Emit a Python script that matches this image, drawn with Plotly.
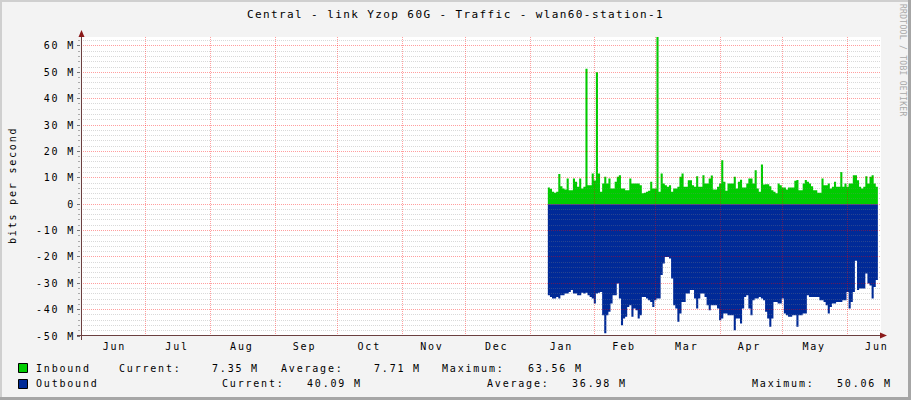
import plotly.graph_objects as go
import pandas as pd

# ---------------- data ----------------
title_text = "Central - link Yzop 60G - Traffic - wlan60-station-1"
series_start = "2024-01-09 12:00"   # first daily sample

inbound_mbps = [
    6.3, 5.8, 4.7, 4.3, 4.7, 11.4, 6.8, 5.9, 5.6, 9.7,
    5.3, 5.3, 9.7, 8.5, 6.6, 9.7, 5.9, 6.6, 51.4, 7.2,
    7.2, 11.6, 9.0, 50.0, 11.6, 4.7, 7.8, 10.4, 7.8, 9.7,
    5.9, 5.9, 8.5, 10.4, 11.0, 5.9, 5.9, 5.3, 5.3, 9.7,
    7.8, 7.8, 7.8, 7.8, 7.2, 4.1, 4.3, 4.7, 5.1, 8.5,
    5.9, 5.9, 63.56, 4.7, 11.6, 7.8, 7.2, 6.6, 7.2, 4.7,
    5.9, 5.9, 6.6, 10.4, 11.6, 6.6, 6.6, 9.1, 9.1, 7.2,
    6.6, 10.6, 6.6, 6.6, 11.0, 7.8, 7.8, 9.7, 10.9, 5.6,
    5.6, 6.6, 7.8, 16.7, 8.5, 5.1, 7.8, 7.8, 7.8, 10.4,
    5.9, 8.5, 9.3, 6.3, 6.3, 7.8, 9.7, 9.7, 7.8, 12.9,
    5.9, 4.7, 15.0, 7.5, 7.6, 7.6, 6.8, 5.3, 4.7, 4.1,
    7.8, 7.2, 6.3, 6.3, 5.6, 6.3, 6.3, 6.3, 8.9, 9.2,
    5.3, 5.3, 7.8, 9.2, 8.5, 7.8, 6.8, 5.3, 5.3, 4.3,
    4.3, 9.7, 7.2, 7.2, 7.8, 5.9, 6.6, 8.5, 6.6, 6.6,
    12.2, 6.6, 7.8, 6.6, 7.8, 7.8, 11.0, 11.0, 9.1, 6.6,
    5.9, 6.6, 10.6, 7.8, 10.4, 11.0, 7.8, 6.6, 7.35,
]

outbound_mbps = [
    34.5, 35.2, 35.8, 35.8, 35.2, 35.8, 34.5, 34.5, 33.9, 33.9,
    33.3, 32.6, 33.9, 33.9, 34.5, 34.5, 33.6, 33.9, 33.6, 34.5,
    35.2, 35.8, 37.7, 33.9, 33.6, 33.3, 42.1, 49.0, 42.1, 40.8,
    37.7, 34.5, 34.5, 30.1, 35.8, 45.9, 43.4, 42.7, 39.0, 38.3,
    42.7, 39.6, 40.2, 43.4, 42.1, 35.2, 35.2, 35.8, 36.4, 37.1,
    39.0, 36.4, 35.8, 35.8, 26.9, 22.5, 20.0, 20.0, 20.6, 28.2,
    38.3, 39.6, 44.6, 41.5, 37.1, 37.1, 33.9, 33.9, 32.6, 32.6,
    35.8, 39.6, 35.8, 33.9, 33.9, 35.2, 38.3, 40.2, 38.3, 38.3,
    38.3, 39.6, 44.0, 43.4, 41.5, 41.5, 42.1, 42.1, 42.1, 47.8,
    43.4, 43.4, 45.3, 39.6, 35.2, 34.5, 39.6, 42.1, 36.4, 35.8,
    35.8, 35.2, 35.8, 36.4, 40.8, 43.4, 46.5, 43.4, 37.1, 37.1,
    37.7, 37.7, 35.8, 41.5, 42.1, 42.7, 42.7, 42.1, 42.1, 46.5,
    42.1, 42.1, 41.5, 41.5, 34.5, 35.2, 35.2, 35.2, 35.2, 35.2,
    36.4, 36.4, 37.1, 38.3, 41.5, 39.0, 37.7, 37.7, 37.1, 37.1,
    37.1, 36.4, 36.4, 33.3, 39.6, 37.1, 33.3, 21.5, 32.6, 32.0,
    32.0, 32.0, 26.3, 30.1, 30.8, 35.8, 31.4, 28.8, 34.5,
]

x_range = ["2023-05-31", "2024-06-17"]
month_grid_dates = ["2023-07-01", "2023-08-01", "2023-09-01", "2023-10-01",
                    "2023-11-01", "2023-12-01", "2024-01-01", "2024-02-01",
                    "2024-03-01", "2024-04-01", "2024-05-01", "2024-06-01"]
month_label_dates = ["2023-06-16", "2023-07-16", "2023-08-16", "2023-09-15",
                     "2023-10-16", "2023-11-15", "2023-12-16", "2024-01-16",
                     "2024-02-15", "2024-03-16", "2024-04-15", "2024-05-16",
                     "2024-06-15"]
month_labels = ["Jun", "Jul", "Aug", "Sep", "Oct", "Nov", "Dec",
                "Jan", "Feb", "Mar", "Apr", "May", "Jun"]

y_range = [-50, 63.4]
ytick_vals = [60, 50, 40, 30, 20, 10, 0, -10, -20, -30, -40, -50]
ytick_text = ["60 M", "50 M", "40 M", "30 M", "20 M", "10 M", "0",
              "-10 M", "-20 M", "-30 M", "-40 M", "-50 M"]

legend_rows = [
    # (label, colour, [(text, x_px, anchor), ...], y_px)
    ("Inbound", "#00CC00",
     [("Current:", 117, "left"), ("7.35 M", 261, "right"),
      ("Average:", 279, "left"), ("7.71 M", 423, "right"),
      ("Maximum:", 440, "left"), ("63.56 M", 585, "right")], 368),
    ("Outbound", "#002A97",
     [("Current:", 220, "left"), ("40.09 M", 364, "right"),
      ("Average:", 485, "left"), ("36.98 M", 629, "right"),
      ("Maximum:", 750, "left"), ("50.06 M", 894, "right")], 384),
]

IN_COLOR = "#00CC00"
OUT_COLOR = "#002A97"
FONT = "DejaVu Sans Mono"

# ---------------- layout helpers ----------------
W, H = 911, 400
PL, PR, PT, PB = 81, 881, 37, 336


def px(xp):
    return (xp - PL) / (PR - PL)


def py(yp):
    return (PB - yp) / (PB - PT)


def sp(t, ls=1.8):
    return f'<span style="letter-spacing:{ls}px">{t}</span>'


def snap_y(v):
    """value -> value at the centre of the nearest pixel row (crisp 1px lines)"""
    y0, y1 = y_range
    ypix = (y1 - v) / (y1 - y0) * (PB - PT)
    ypix = int(ypix) + 0.5
    return y1 - ypix / (PB - PT) * (y1 - y0)


t0, t1 = pd.Timestamp(x_range[0]), pd.Timestamp(x_range[1])


def snap_x(d):
    t = pd.Timestamp(d)
    xpix = (t - t0) / (t1 - t0) * (PR - PL)
    xpix = int(xpix) + 0.5
    return t0 + (t1 - t0) * (xpix / (PR - PL))


dates = pd.date_range(series_start, periods=len(inbound_mbps), freq="D")

fig = go.Figure()
fig.add_trace(go.Scatter(
    x=dates, y=inbound_mbps, mode="lines", fill="tozeroy",
    line=dict(width=0, shape="hv", color=IN_COLOR), fillcolor=IN_COLOR,
    name="Inbound", hoverinfo="skip"))
fig.add_trace(go.Scatter(
    x=dates, y=[-v for v in outbound_mbps], mode="lines", fill="tozeroy",
    line=dict(width=0, shape="hv", color=OUT_COLOR), fillcolor=OUT_COLOR,
    name="Outbound", hoverinfo="skip"))

shapes = []
MINOR = "rgba(128,128,128,0.30)"
MAJOR = "rgba(255,0,0,0.38)"
DASH = "1px,1px"
# horizontal grid (drawn above the areas, like rrdtool)
for v in range(-48, 64, 2):
    vs = snap_y(v)
    shapes.append(dict(type="line", xref="paper", x0=0, x1=1, yref="y", y0=vs, y1=vs,
                       line=dict(color=MAJOR if v % 10 == 0 else MINOR, width=1, dash=DASH),
                       layer="above"))
# vertical month grid
for d in month_grid_dates:
    ds = snap_x(d)
    shapes.append(dict(type="line", xref="x", x0=ds, x1=ds, yref="paper", y0=0, y1=1,
                       line=dict(color=MAJOR, width=1, dash=DASH), layer="above"))

AX = "#6b4040"
ARROW = "#8b1a1a"
# axis lines
shapes.append(dict(type="line", xref="paper", yref="paper", x0=px(PL + 0.5), x1=px(PL + 0.5),
                   y0=py(340), y1=py(32), line=dict(color=AX, width=1), layer="above"))
shapes.append(dict(type="line", xref="paper", yref="paper", x0=px(77), x1=px(884),
                   y0=py(PB - 0.5), y1=py(PB - 0.5), line=dict(color=AX, width=1), layer="above"))
# arrow heads
shapes.append(dict(type="path", xref="paper", yref="paper",
                   path=f"M {px(PL-2.5)} {py(37)} L {px(PL+3.5)} {py(37)} L {px(PL+0.5)} {py(30)} Z",
                   fillcolor=ARROW, line=dict(width=0), layer="above"))
shapes.append(dict(type="path", xref="paper", yref="paper",
                   path=f"M {px(880)} {py(PB-3.5)} L {px(880)} {py(PB+2.5)} L {px(887)} {py(PB-0.5)} Z",
                   fillcolor=ARROW, line=dict(width=0), layer="above"))

# legend boxes
for i, (lab, col, items, yp) in enumerate(legend_rows):
    shapes.append(dict(type="rect", xref="paper", yref="paper",
                       x0=px(18.5), x1=px(27.5), y0=py(yp + 4.5), y1=py(yp - 4.5),
                       fillcolor=col, line=dict(color="#000000", width=1), layer="above"))

# frame around image
shapes.append(dict(type="rect", xref="paper", yref="paper", x0=px(0), x1=px(W),
                   y0=py(H), y1=py(H - 3), fillcolor="#A6A6A6", line=dict(width=0)))
shapes.append(dict(type="rect", xref="paper", yref="paper", x0=px(W - 3), x1=px(W),
                   y0=py(H), y1=py(0), fillcolor="#A6A6A6", line=dict(width=0)))
shapes.append(dict(type="rect", xref="paper", yref="paper", x0=px(0), x1=px(W - 3),
                   y0=py(2), y1=py(0), fillcolor="#CFCFCF", line=dict(width=0)))
shapes.append(dict(type="rect", xref="paper", yref="paper", x0=px(0), x1=px(2),
                   y0=py(H - 3), y1=py(0), fillcolor="#CFCFCF", line=dict(width=0)))

annotations = []
for lab, col, items, yp in legend_rows:
    annotations.append(dict(text=sp(lab), xref="paper", yref="paper", x=px(34), y=py(yp),
                            xanchor="left", yanchor="middle", showarrow=False,
                            font=dict(family=FONT, size=10, color="#000000")))
    for t, xp, anc in items:
        annotations.append(dict(text=sp(t), xref="paper", yref="paper", x=px(xp), y=py(yp),
                                xanchor=anc, yanchor="middle", showarrow=False,
                                font=dict(family=FONT, size=10, color="#000000")))

annotations.append(dict(text=sp("bits per second"), xref="paper", yref="paper",
                        x=px(12), y=py(186), textangle=-90, xanchor="center", yanchor="middle",
                        showarrow=False, font=dict(family=FONT, size=10, color="#000000")))
annotations.append(dict(text=sp("RRDTOOL / TOBI OETIKER", 0.3), xref="paper", yref="paper",
                        x=px(902), y=py(60), textangle=90, xanchor="center", yanchor="middle",
                        showarrow=False, font=dict(family=FONT, size=8, color="#A8A8A8")))

fig.update_layout(
    width=W, height=H,
    margin=dict(l=PL, r=W - PR, t=PT, b=H - PB),
    paper_bgcolor="#F3F3F3", plot_bgcolor="#FFFFFF",
    showlegend=False,
    font=dict(family=FONT, size=10, color="#000000"),
    title=dict(text=sp(title_text, 1.4), xref="container", x=0.5, xanchor="center",
               yref="container", y=1 - 14 / H, yanchor="middle",
               font=dict(family=FONT, size=11, color="#000000")),
    xaxis=dict(type="date", range=x_range, showgrid=False, zeroline=False, showline=False,
               tickmode="array", tickvals=month_label_dates,
               ticktext=[sp(t) for t in month_labels], ticks="", ticklabelstandoff=3,
               tickfont=dict(family=FONT, size=10, color="#000000")),
    yaxis=dict(range=y_range, showgrid=False, zeroline=False, showline=False,
               tickmode="array", tickvals=ytick_vals, ticktext=[sp(t) for t in ytick_text],
               ticks="outside", ticklen=3, tickcolor="#777777",
               minor=dict(dtick=2, ticks="outside", ticklen=2, tickcolor="#AAAAAA", showgrid=False),
               tickfont=dict(family=FONT, size=10, color="#000000")),
    shapes=shapes, annotations=annotations,
)

fig.write_html("out.html",
               config={"displayModeBar": False},
               post_script="document.body.style.margin='0px';document.body.style.overflow='hidden';")
